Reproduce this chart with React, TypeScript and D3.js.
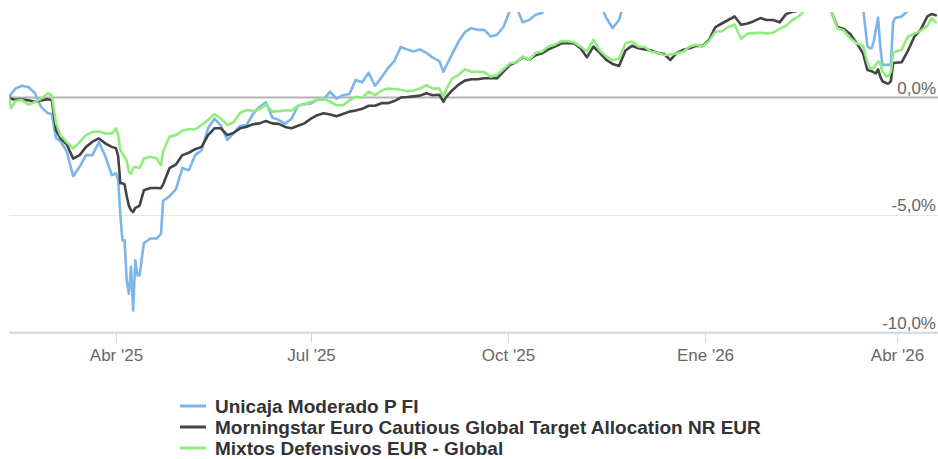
import React from "react";
import * as d3 from "d3";

const dates: string[] = [
  "2025-02-10","2025-02-11","2025-02-13","2025-02-16","2025-02-19","2025-02-22","2025-02-25","2025-02-28","2025-03-02","2025-03-04",
  "2025-03-06","2025-03-09","2025-03-12","2025-03-15","2025-03-18","2025-03-21","2025-03-24","2025-03-27","2025-03-30","2025-04-01",
  "2025-04-02","2025-04-03","2025-04-04","2025-04-05","2025-04-06","2025-04-07","2025-04-08","2025-04-09","2025-04-10","2025-04-11",
  "2025-04-12","2025-04-14","2025-04-17","2025-04-20","2025-04-22","2025-04-23","2025-04-26","2025-04-29","2025-05-02","2025-05-05",
  "2025-05-08","2025-05-11","2025-05-14","2025-05-17","2025-05-20","2025-05-23","2025-05-26","2025-05-29","2025-06-01","2025-06-04",
  "2025-06-07","2025-06-10","2025-06-13","2025-06-16","2025-06-19","2025-06-22","2025-06-25","2025-06-28","2025-07-01","2025-07-04",
  "2025-07-07","2025-07-10","2025-07-13","2025-07-16","2025-07-19","2025-07-22","2025-07-25","2025-07-28","2025-07-31","2025-08-03",
  "2025-08-06","2025-08-09","2025-08-12","2025-08-15","2025-08-18","2025-08-21","2025-08-24","2025-08-27","2025-08-30","2025-09-01",
  "2025-09-02","2025-09-05","2025-09-08","2025-09-11","2025-09-14","2025-09-17","2025-09-20","2025-09-23","2025-09-26","2025-09-29",
  "2025-10-02","2025-10-05","2025-10-08","2025-10-11","2025-10-14","2025-10-17","2025-10-20","2025-10-23","2025-10-26","2025-10-29",
  "2025-11-01","2025-11-04","2025-11-07","2025-11-10","2025-11-13","2025-11-16","2025-11-19","2025-11-22","2025-11-25","2025-11-28",
  "2025-12-01","2025-12-04","2025-12-07","2025-12-10","2025-12-13","2025-12-16","2025-12-19","2025-12-22","2025-12-25","2025-12-28",
  "2025-12-31","2026-01-03","2026-01-06","2026-01-09","2026-01-12","2026-01-15","2026-01-18","2026-01-21","2026-01-24","2026-01-27",
  "2026-01-30","2026-02-02","2026-02-05","2026-02-08","2026-02-11","2026-02-14","2026-02-17","2026-02-20","2026-02-23","2026-02-26",
  "2026-03-01","2026-03-04","2026-03-07","2026-03-10","2026-03-13","2026-03-16","2026-03-18","2026-03-19","2026-03-20","2026-03-21",
  "2026-03-22","2026-03-23","2026-03-24","2026-03-25","2026-03-26","2026-03-27","2026-03-28","2026-03-29","2026-03-30","2026-03-31",
  "2026-04-03","2026-04-06","2026-04-09","2026-04-12","2026-04-15","2026-04-17","2026-04-19",
];

const unicaja: number[] = [
  0, 0.15, 0.38, 0.5, 0.45, 0.2, -0.4, -0.66, -0.7, -1.73,
  -1.85, -2.3, -3.35, -2.95, -2.45, -2.45, -1.9, -2.5, -3.3, -3.23,
  -3.5, -5.0, -6.08, -6.08, -7.8, -8.35, -7.2, -9.06, -6.93, -7.57,
  -7.57, -6.2, -6.0, -6.0, -5.8, -4.4, -4.2, -3.9, -3.0, -3.1,
  -2.45, -2.24, -1.3, -0.9, -1.2, -1.81, -1.5, -1.2, -1.17, -0.7,
  -0.4, -0.2, -0.85, -0.95, -1.12, -0.9, -0.35, -0.28, -0.25, -0.1,
  -0.08, 0.25, -0.05, 0.1, 0.15, 0.75, 0.65, 1.05, 0.5, 0.85,
  1.25, 1.55, 2.15, 2.05, 1.96, 2.05, 1.9, 1.7, 1.55, 1.1,
  1.3, 1.85, 2.38, 2.78, 2.95, 2.88, 2.88, 2.6, 2.67, 3.0,
  3.7, 3.85, 3.2, 3.3, 3.52, 3.6, 3.9, 4.1, 4.2, 4.3,
  4.2, 4.3, 4.1, 4.4, 4.0, 3.4, 2.95, 3.3, 4.2, 4.5,
  4.4, 4.5, 4.6, 4.5, 4.6, 4.4, 4.6, 4.8, 4.9, 4.9,
  5.0, 5.3, 5.6, 5.7, 5.8, 5.9, 5.8, 5.7, 5.8, 5.9,
  6.0, 6.1, 6.2, 6.3, 6.4, 6.5, 6.4, 6.3, 6.1, 5.9,
  5.6, 5.0, 4.6, 4.4, 4.1, 3.8, 2.2, 2.1, 2.1, 2.4,
  2.9, 3.4, 2.2, 1.39, 1.39, 1.39, 1.39, 1.39, 3.2, 3.38,
  3.45, 3.7, 4.0, 4.2, 4.4, 4.5, 4.5,
];

const morningstar: number[] = [
  0, -0.05, -0.1, -0.07, -0.12, -0.18, -0.12, -0.07, -0.12, -1.4,
  -1.73, -2.0, -2.6, -2.45, -2.1, -1.88, -1.74, -1.95, -2.1, -2.16,
  -2.5, -3.65, -3.65, -3.7, -4.2, -4.6, -4.8, -4.87, -4.7, -4.65,
  -4.6, -3.95, -3.85, -3.85, -3.86, -3.7, -3.0, -2.85, -2.45, -2.35,
  -2.2, -2.1, -1.6, -1.31, -1.31, -1.6, -1.5, -1.31, -1.24, -1.14,
  -1.1, -1.0, -1.1, -1.12, -1.25, -1.31, -1.2, -1.1, -0.9, -0.75,
  -0.67, -0.72, -0.8, -0.7, -0.6, -0.55, -0.48, -0.35, -0.35, -0.24,
  -0.24, -0.15, 0.0, 0.02, 0.05, 0.08, 0.18, 0.1, 0.12, -0.18,
  0.0, 0.3, 0.55, 0.72, 0.78, 0.78, 0.82, 0.82, 0.82, 1.1,
  1.39, 1.5, 1.72, 1.6, 1.8, 1.88, 2.05, 2.17, 2.3, 2.32,
  2.3, 2.1, 1.71, 2.17, 1.9, 1.6, 1.43, 1.34, 2.0, 2.2,
  2.1, 2.05, 2.0, 1.9, 1.85, 1.6, 1.9, 2.03, 2.1, 2.2,
  2.2, 2.45, 3.0, 3.15, 3.3, 3.45, 3.1, 3.15, 3.25, 3.38,
  3.3, 3.3, 3.2, 3.55, 3.65, 3.7, 3.85, 3.95, 4.0, 3.9,
  3.7, 3.0, 2.92, 2.7, 2.31, 1.88, 1.17, 1.15, 1.12, 1.07,
  1.03, 1.2, 0.9, 0.7, 0.65, 0.6, 0.6, 0.7, 1.46, 1.48,
  1.5, 2.0, 2.6, 2.9, 3.45, 3.55, 3.5,
];

const mixtos: number[] = [
  0, -0.45, -0.15, -0.1, -0.3, -0.2, -0.05, 0.18, 0.1, -1.1,
  -1.6, -1.9, -2.17, -1.9, -1.6, -1.46, -1.45, -1.53, -1.53, -1.31,
  -1.6, -2.24, -2.4, -2.52, -2.7, -3.15, -3.25, -3.0, -2.95, -2.98,
  -3.0, -2.6, -2.52, -2.6, -2.88, -2.3, -1.67, -1.6, -1.4, -1.35,
  -1.35, -1.17, -0.96, -0.7, -0.9, -1.17, -1.05, -0.65, -0.53, -0.57,
  -0.5, -0.3, -0.6, -0.58, -0.55, -0.55, -0.35, -0.3, -0.18, -0.1,
  -0.05, -0.18, -0.33, -0.33, -0.12, 0.03, 0.0, 0.25, 0.1, 0.3,
  0.38, 0.36, 0.33, 0.27, 0.3, 0.38, 0.53, 0.38, 0.38, 0.03,
  0.3, 0.8, 0.96, 1.2, 1.1, 1.1, 1.08, 0.89, 0.96, 1.2,
  1.46, 1.5, 1.74, 1.6, 1.9, 1.96, 2.17, 2.25, 2.4, 2.4,
  2.35, 2.17, 1.96, 2.45, 2.0, 1.75, 1.6, 1.65, 2.31, 2.38,
  2.17, 2.15, 1.95, 1.9, 1.81, 1.83, 1.88, 1.95, 2.17, 2.25,
  2.17, 2.4, 2.8, 2.82, 3.0, 3.1, 2.5, 2.72, 2.74, 2.76,
  2.73, 2.76, 2.92, 3.05, 3.3, 3.45, 3.75, 3.85, 3.9, 3.85,
  3.7, 2.95, 2.85, 2.52, 2.3, 2.2, 1.5, 1.25, 1.25, 1.25,
  1.4, 1.53, 1.5, 1.1, 1.0, 0.89, 0.92, 1.1, 1.88, 1.95,
  2.03, 2.6, 2.72, 2.85, 3.05, 3.38, 3.2,
];

const seriesNames = [
  "Unicaja Moderado P FI",
  "Morningstar Euro Cautious Global Target Allocation NR EUR",
  "Mixtos Defensivos EUR - Global",
];
const seriesColors = ["#7cb5ec", "#434348", "#90ed7d"];

const xTickDates = ["2025-04-01", "2025-07-01", "2025-10-01", "2026-01-01", "2026-04-01"];
const xTickLabels = ["Abr '25", "Jul '25", "Oct '25", "Ene '26", "Abr '26"];
const yTicks = [0, -5, -10];
const yTickLabels = ["0,0%", "-5,0%", "-10,0%"];

const W = 938;
const H = 459;
const FONT = "'Liberation Sans', Arial, Helvetica, sans-serif";

const parse = (s: string) => {
  const [y, m, d] = s.split("-").map(Number);
  return new Date(Date.UTC(y, m - 1, d));
};

export default function App() {
  const plot = { left: 9, right: 938, top: 12, bottom: 332.5 };
  const x = d3
    .scaleUtc()
    .domain([parse("2025-02-10"), parse("2026-04-20")])
    .range([plot.left, plot.right]);
  const y = d3.scaleLinear().domain([-10, 3.64]).range([plot.bottom, plot.top]);

  const allSeries = [unicaja, morningstar, mixtos];
  const line = d3
    .line<number>()
    .x((_, i) => x(parse(dates[i])))
    .y((v) => y(v));

  return (
    <svg
      width={W}
      height={H}
      style={{ position: "absolute", left: 0, top: 0, background: "#fff" }}
      fontFamily={FONT}
    >
      <defs>
        <clipPath id="plotclip">
          <rect x={plot.left} y={plot.top} width={plot.right - plot.left} height={plot.bottom - plot.top} />
        </clipPath>
      </defs>
      {/* grid lines */}
      {yTicks.map((t) =>
        t === 0 ? null : (
          <line key={t} x1={plot.left} x2={plot.right} y1={Math.round(y(t)) + 0.5} y2={Math.round(y(t)) + 0.5} stroke="#e6e6e6" strokeWidth={1} />
        )
      )}
      {/* zero line */}
      <line x1={plot.left} x2={plot.right} y1={y(0)} y2={y(0)} stroke="#b3b3b3" strokeWidth={2} />
      {/* x axis */}
      <line x1={plot.left} x2={plot.right} y1={plot.bottom} y2={plot.bottom} stroke="#ccd6eb" strokeWidth={1.5} />
      {xTickDates.map((d, i) => {
        const xx = Math.round(x(parse(d))) + 0.5;
        return (
          <g key={d}>
            <line x1={xx} x2={xx} y1={plot.bottom} y2={plot.bottom + 10} stroke="#ccd6eb" strokeWidth={1} />
            <text x={xx} y={361} textAnchor="middle" fontSize={17} fill="#666666">
              {xTickLabels[i]}
            </text>
          </g>
        );
      })}
      {/* series */}
      <g clipPath="url(#plotclip)">
        {allSeries.map((s, i) => (
          <path key={i} d={line(s) || ""} fill="none" stroke={seriesColors[i]} strokeWidth={2.6} strokeLinejoin="round" strokeLinecap="round" />
        ))}
      </g>
      {/* y labels */}
      {yTicks.map((t, i) => (
        <text key={t} x={936} y={y(t) - 4} textAnchor="end" fontSize={17} fill="#666666">
          {yTickLabels[i]}
        </text>
      ))}
      {/* legend */}
      {seriesNames.map((n, i) => {
        const cy = 406 + i * 21;
        return (
          <g key={n}>
            <line x1={180} x2={206} y1={cy} y2={cy} stroke={seriesColors[i]} strokeWidth={3} />
            <text x={215} y={cy} dominantBaseline="central" fontSize={19} fontWeight="bold" fill="#333333">
              {n}
            </text>
          </g>
        );
      })}
    </svg>
  );
}
